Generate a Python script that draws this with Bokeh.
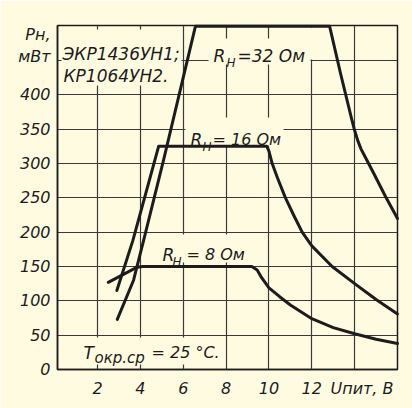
from bokeh.plotting import figure
from bokeh.models import Label, BoxAnnotation, FixedTicker, Range1d
from bokeh.embed import file_html
from bokeh.resources import INLINE

# ---- data ----
u_8 = [2.5, 3.85, 4.1, 9.2, 9.45, 9.65, 10.0, 10.5, 11.0, 12.0, 13.0, 14.0, 15.0, 16.0]
p_8 = [127, 149, 150, 150, 145, 134, 119, 106, 94, 74, 61, 52, 44, 38]
u_16 = [2.9, 3.65, 4.85, 9.9, 10.0, 10.15, 10.4, 10.77, 11.15, 11.55, 12.0, 12.95, 14.0, 15.0, 16.0]
p_16 = [115, 188, 325, 325, 318, 300, 279, 250, 225, 200, 180, 150, 125, 102, 81]
u_32 = [2.92, 3.68, 4.15, 5.08, 6.57, 12.83, 13.35, 13.85, 14.0, 14.15, 14.3, 14.45, 14.9, 15.44, 16.0]
p_32 = [73, 130, 188, 305, 500, 500, 430, 366, 348, 333, 321, 312, 285, 252, 220]

x_ticks = [2, 4, 6, 8, 10, 12]
x_grid = [2, 4, 6, 8, 10, 12, 14]
y_ticks = [0, 50, 100, 150, 200, 250, 300, 350, 400]
y_grid = [50, 100, 150, 200, 250, 300, 350, 400, 450]
x_title = "Uпит, В"
y_title = "Pн,\nмВт"

CREAM = "#fffbe1"
INK = "#1c1c1c"
GRID = "#3a3a3a"
FONT = "DejaVu Sans"

# frame geometry in page pixels
W, H = 412, 408
FL, FR, FT, FB = 57, 397, 25, 369
XMIN, XMAX, YMIN, YMAX = 0.13, 16.0, 0, 501


def xv(px):
    return XMIN + (px - FL) * (XMAX - XMIN) / (FR - FL)


def yv(py):
    return YMIN + (FB - py) * (YMAX - YMIN) / (FB - FT)


p = figure(frame_width=FR - FL, frame_height=FB - FT,
           min_border_left=FL, min_border_right=W - FR,
           min_border_top=FT, min_border_bottom=H - FB,
           x_range=Range1d(XMIN, XMAX), y_range=Range1d(YMIN, YMAX),
           output_backend="svg", toolbar_location=None)

p.background_fill_color = CREAM
p.border_fill_color = CREAM
p.outline_line_color = INK
p.outline_line_width = 1.5

for ax in (p.xaxis[0], p.yaxis[0]):
    ax.axis_line_color = INK
    ax.axis_line_width = 1.5
    ax.major_tick_line_color = None
    ax.major_tick_in = 0
    ax.major_tick_out = 0
    ax.minor_tick_line_color = None
    ax.major_label_text_font = FONT
    ax.major_label_text_font_style = "italic"
    ax.major_label_text_font_size = "16px"
    ax.major_label_text_color = INK

xt_title = xv(361.5)
yt_title = yv(45)
p.xaxis[0].ticker = FixedTicker(ticks=x_ticks + [xt_title])
p.xaxis[0].major_label_overrides = {xt_title: x_title}
p.xaxis[0].major_label_standoff = 9
p.yaxis[0].ticker = FixedTicker(ticks=y_ticks + [yt_title])
p.yaxis[0].major_label_overrides = {yt_title: y_title}
p.yaxis[0].major_label_standoff = 7

p.xgrid[0].ticker = FixedTicker(ticks=x_grid)
p.ygrid[0].ticker = FixedTicker(ticks=y_grid)
for g in (p.xgrid[0], p.ygrid[0]):
    g.grid_line_color = GRID
    g.grid_line_width = 1.2
    g.grid_line_alpha = 1.0

# masks where the hand-drawn grid is interrupted by lettering
for (l, r, t, b) in [(61, 181, 29, 85), (208, 310, 38, 64), (305, 316, 27, 59),
                     (185, 283, 117, 145), (156, 247, 234, 262), (79, 219, 337, 364)]:
    p.add_layout(BoxAnnotation(left=xv(l), right=xv(r), top=yv(t), bottom=yv(b),
                               fill_color=CREAM, fill_alpha=1.0, line_alpha=0))


def lab(text, px, py, size):
    p.add_layout(Label(x=xv(px), y=yv(py), text=text,
                       text_font=FONT, text_font_style="italic",
                       text_font_size=f"{size}px", text_color=INK,
                       text_align="left", text_baseline="alphabetic"))


lab("ЭКР1436УН1;", 62, 53, 17)
lab("КР1064УН2.", 63, 75, 17)

lab("R", 213, 55, 17)
lab("Н", 226, 62, 12)
lab("=32 Ом", 237, 55, 17)

lab("R", 190, 139, 17)
lab("Н", 202, 146, 12)
lab("= 16 Ом", 212, 139, 16)

lab("R", 162, 254, 17)
lab("Н", 172, 261, 12)
lab("= 8 Ом", 186, 254, 16)

lab("T", 83, 352, 17)
lab("окр.ср", 94, 357, 15)
lab("= 25 °С.", 151, 352, 16)

for u, pw in ((u_8, p_8), (u_16, p_16), (u_32, p_32)):
    r = p.line(u, pw, line_color=INK, line_width=3, line_join="round", line_cap="round")
    r.level = "overlay"

open("out.html", "w").write(file_html(p, INLINE))
